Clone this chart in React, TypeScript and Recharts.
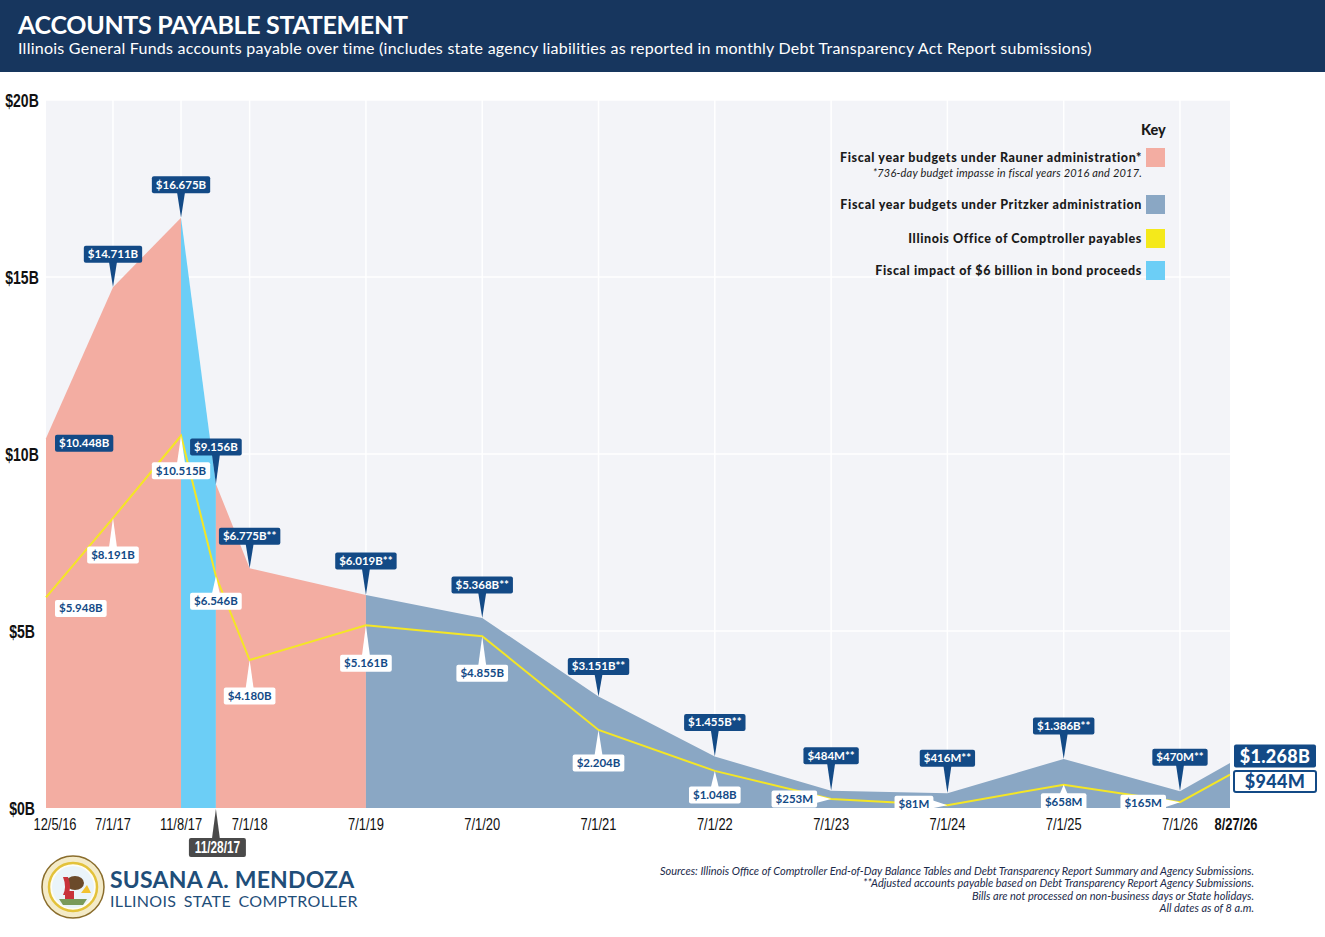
import React from "react";
import { ComposedChart, Area, Line, XAxis, YAxis, CartesianGrid, LabelList } from "recharts";

// statement dates on the x axis
const DATES = [
  "12/5/16", "7/1/17", "11/8/17", "11/28/17", "7/1/18", "7/1/19", "7/1/20",
  "7/1/21", "7/1/22", "7/1/23", "7/1/24", "7/1/25", "7/1/26", "8/27/26",
];
// total accounts payable, $B
const TOTAL_AP = [10.448, 14.711, 16.675, 9.156, 6.775, 6.019, 5.368, 3.151, 1.455, 0.484, 0.416, 1.386, 0.47, 1.268];
// Illinois Office of Comptroller payables, $B
const COMPTROLLER_AP = [5.948, 8.191, 10.515, 6.546, 4.18, 5.161, 4.855, 2.204, 1.048, 0.253, 0.081, 0.658, 0.165, 0.944];

const TOTAL_TEXT = [
  "$10.448B", "$14.711B", "$16.675B", "$9.156B", "$6.775B**", "$6.019B**", "$5.368B**",
  "$3.151B**", "$1.455B**", "$484M**", "$416M**", "$1.386B**", "$470M**", "$1.268B",
];
const COMPTROLLER_TEXT = [
  "$5.948B", "$8.191B", "$10.515B", "$6.546B", "$4.180B", "$5.161B", "$4.855B",
  "$2.204B", "$1.048B", "$253M", "$81M", "$658M", "$165M", "$944M",
];

// the axis is not linear in time: gap between consecutive dates, in fiscal-year widths
const AXIS_STEPS = [0.576, 0.585, 0.3, 0.29, 1, 1, 1, 1, 1, 1, 1, 1, 0.43];
const Y_TICKS = [0, 5, 10, 15, 20];
const GRID_DATES = ["7/1/17", "11/8/17", "7/1/18", "7/1/19", "7/1/20", "7/1/21", "7/1/22", "7/1/23", "7/1/24", "7/1/25", "7/1/26"];

// date index ranges of each period
const RAUNER_1 = [0, 2];
const BOND = [2, 3];
const RAUNER_2 = [3, 5];
const PRITZKER = [5, 13];

const KEY = [
  { label: "Fiscal year budgets under Rauner administration*", color: "#F3ADA2", note: "*736-day budget impasse in fiscal years 2016 and 2017." },
  { label: "Fiscal year budgets under Pritzker administration", color: "#8AA7C4" },
  { label: "Illinois Office of Comptroller payables", color: "#F4E91B" },
  { label: "Fiscal impact of $6 billion in bond proceeds", color: "#6CCEF6" },
];
const KEY_ROW_TOP = [148, 195, 229, 261];

const SOURCES = [
  "Sources: Illinois Office of Comptroller End-of-Day Balance Tables and Debt Transparency Report Summary and Agency Submissions.",
  "**Adjusted accounts payable based on Debt Transparency Report Agency Submissions.",
  "Bills are not processed on non-business days or State holidays.",
  "All dates as of 8 a.m.",
];

// label placement per point (style only)
const TOTAL_PLACE: [string, number][] = [
  ["right", 5], ["above", 33], ["above", 33], ["above", 37], ["above", 32], ["above", 34], ["above", 33],
  ["above", 30], ["above", 34], ["above", 35], ["above", 35], ["above", 33], ["above", 34], ["big", -7],
];
const COMPTROLLER_PLACE: [string, number][] = [
  ["right", 11], ["below", 37], ["below", 35], ["below", 25], ["below", 36], ["below", 38], ["below", 37],
  ["below", 33], ["below", 24], ["left", 0], ["left", -1], ["below", 17], ["left", 1], ["big", 7],
];

const NAVY = "#134A86";
const LABEL_FONT = "Lato, 'Noto Sans', sans-serif";
const AXIS_FONT = "'Liberation Sans', Arial, sans-serif";

const positions = AXIS_STEPS.reduce((acc, s) => [...acc, acc[acc.length - 1] + s], [0]);
const inRange = (i: number, r: number[]) => i >= r[0] && i <= r[1];

const rows = DATES.map((date, i) => ({
  x: positions[i],
  date,
  total: TOTAL_AP[i],
  ioc: COMPTROLLER_AP[i],
  rauner1: inRange(i, RAUNER_1) ? TOTAL_AP[i] : null,
  bond: inRange(i, BOND) ? TOTAL_AP[i] : null,
  rauner2: inRange(i, RAUNER_2) ? TOTAL_AP[i] : null,
  pritzker: inRange(i, PRITZKER) ? TOTAL_AP[i] : null,
}));

let ctx: CanvasRenderingContext2D | null = null;
const textWidth = (t: string, font: string) => {
  if (!ctx) ctx = document.createElement("canvas").getContext("2d");
  if (!ctx) return t.length * 6.2;
  ctx.font = font;
  return ctx.measureText(t).width;
};

const pointOf = (p: any) => {
  const vb = p.viewBox || {};
  const px = vb.x ?? p.x;
  const py = vb.y ?? p.y;
  const i = DATES.indexOf(p.value);
  return { px, py, i };
};

// condensed text (no narrow face installed, so squeeze horizontally)
const Narrow = ({ x, y, children, size, weight, fill, squeeze = 0.76 }: any) => (
  <text
    transform={`translate(${x},${y}) scale(${squeeze},1)`}
    textAnchor="middle"
    fill={fill}
    fontFamily={AXIS_FONT}
    fontWeight={weight}
    fontSize={size}
  >
    {children}
  </text>
);

const Callout = ({ px, py, text, place, dist, dark }: any) => {
  const bg = dark ? NAVY : "#FFFFFF";
  const fg = dark ? "#FFFFFF" : NAVY;
  if (place === "big") {
    const w = 82;
    const h = dark ? 23 : 21;
    const cy = py + dist;
    return (
      <g>
        <rect x={px + 4} y={cy - h / 2} width={w} height={h} rx={2} fill={bg} stroke={dark ? "none" : NAVY} strokeWidth={2} />
        <text x={px + 4 + w / 2} y={cy + 6.5} textAnchor="middle" fill={fg} fontFamily={LABEL_FONT} fontWeight={900} fontSize={18} letterSpacing={0.3}>
          {text}
        </text>
      </g>
    );
  }
  const font = `700 11.5px ${LABEL_FONT}`;
  const w = textWidth(text, font) + 8;
  const h = 17;
  let cx = px;
  let cy = py;
  let pointer: string | null = null;
  if (place === "above") {
    cy = py - dist;
    const b = cy + h / 2 - 1;
    pointer = `${px - 4},${b} ${px + 4},${b} ${px},${py}`;
  } else if (place === "below") {
    cy = py + dist;
    const t = cy - h / 2 + 1;
    pointer = `${px - 4},${t} ${px + 4},${t} ${px},${py}`;
  } else if (place === "left") {
    cy = py + dist;
    cx = px - 14 - w / 2;
    const r = cx + w / 2 - 1;
    pointer = `${r},${cy - 4} ${r},${cy + 4} ${px},${py}`;
  } else {
    cy = py + dist;
    cx = px + 9 + w / 2;
  }
  return (
    <g>
      {pointer && <polygon points={pointer} fill={bg} />}
      <rect x={cx - w / 2} y={cy - h / 2} width={w} height={h} rx={2} fill={bg} />
      <text x={cx} y={cy + 4} textAnchor="middle" fill={fg} fontFamily={LABEL_FONT} fontWeight={700} fontSize={11.5}>
        {text}
      </text>
    </g>
  );
};

const renderTotalLabel = (p: any) => {
  const { px, py, i } = pointOf(p);
  if (i < 0 || px == null) return null;
  const [place, dist] = TOTAL_PLACE[i];
  return <Callout px={px} py={py} text={TOTAL_TEXT[i]} place={place} dist={dist} dark />;
};

const renderComptrollerLabel = (p: any) => {
  const { px, py, i } = pointOf(p);
  if (i < 0 || px == null) return null;
  const [place, dist] = COMPTROLLER_PLACE[i];
  return <Callout px={px} py={py} text={COMPTROLLER_TEXT[i]} place={place} dist={dist} />;
};

const XTick = (props: any) => {
  const { x, y, payload } = props;
  const i = positions.findIndex((v) => Math.abs(v - payload.value) < 1e-6);
  const label = DATES[i];
  if (label === "11/28/17") {
    const top = 839;
    return (
      <g>
        <polygon points={`${x - 4},${top} ${x + 4},${top} ${x},${809}`} fill="#4A4A4A" />
        <rect x={x - 27} y={top - 1} width={57} height={19} rx={2} fill="#4A4A4A" />
        <Narrow x={x + 1.5} y={top + 14} size={16} weight={700} fill="#fff" squeeze={0.74}>
          {label}
        </Narrow>
      </g>
    );
  }
  const last = i === DATES.length - 1;
  const shift = i === 0 ? 9 : last ? 6 : 0;
  return (
    <Narrow x={x + shift} y={y + 14} size={17} weight={last ? 700 : 400} fill="#111">
      {label}
    </Narrow>
  );
};

const YTick = (props: any) => {
  const { y, payload } = props;
  return (
    <Narrow x={22} y={y + 6.5} size={18} weight={700} fill="#111" squeeze={0.78}>
      {`$${payload.value}B`}
    </Narrow>
  );
};

const Seal = () => (
  <svg width={64} height={64} viewBox="0 0 64 64" style={{ position: "absolute", left: 41, top: 855 }}>
    <circle cx={32} cy={32} r={31} fill="#F4EBC8" stroke="#8A6D2C" strokeWidth={1.5} />
    <circle cx={32} cy={32} r={24} fill="#FFFDF3" stroke="#E3C23A" strokeWidth={2.5} />
    <circle cx={32} cy={32} r={21} fill="#EAF4FA" />
    <path d="M18 44 L46 44 L42 50 L22 50 Z" fill="#7A9A5A" />
    <ellipse cx={34} cy={28} rx={9} ry={7} fill="#6B4A2A" />
    <path d="M22 22 Q26 32 22 40 L27 40 Q31 32 27 22 Z" fill="#C8323A" />
    <rect x={24} y={36} width={9} height={8} fill="#C8323A" />
    <path d="M40 38 L50 38 L46 30 Z" fill="#F2C230" />
  </svg>
);

const App: React.FC = () => {
  const gridX = GRID_DATES.map((d) => positions[DATES.indexOf(d)]);
  return (
    <div style={{ position: "absolute", left: 0, top: 0, width: 1325, height: 937, background: "#fff", overflow: "hidden" }}>
      <div style={{ position: "absolute", left: 0, top: 0, width: 1325, height: 72, background: "#17365E", color: "#fff", fontFamily: LABEL_FONT }}>
        <div style={{ position: "absolute", left: 18, top: 9, fontSize: 25, fontWeight: 700, letterSpacing: -0.3 }}>ACCOUNTS PAYABLE STATEMENT</div>
        <div style={{ position: "absolute", left: 18, top: 38, fontSize: 16, letterSpacing: 0.25 }}>
          Illinois General Funds accounts payable over time (includes state agency liabilities as reported in monthly Debt Transparency Act Report submissions)
        </div>
      </div>

      <div style={{ position: "absolute", left: 0, top: 0 }}>
        <ComposedChart width={1325} height={937} data={rows} margin={{ top: 100, right: 95, bottom: 89, left: 0 }}>
          <CartesianGrid
            fill="#F3F4F8"
            stroke="#FFFFFF"
            strokeWidth={1.5}
            horizontalValues={Y_TICKS}
            verticalValues={gridX}
          />
          <XAxis
            dataKey="x"
            type="number"
            domain={[0, positions[positions.length - 1]]}
            ticks={positions}
            interval={0}
            tick={<XTick />}
            axisLine={false}
            tickLine={false}
            height={40}
          />
          <YAxis domain={[0, 20]} ticks={Y_TICKS} tick={<YTick />} axisLine={false} tickLine={false} width={46} />
          <Area dataKey="rauner1" type="linear" stroke="none" fill="#F3ADA2" fillOpacity={1} isAnimationActive={false} />
          <Area dataKey="bond" type="linear" stroke="none" fill="#6CCEF6" fillOpacity={1} isAnimationActive={false} />
          <Area dataKey="rauner2" type="linear" stroke="none" fill="#F3ADA2" fillOpacity={1} isAnimationActive={false} />
          <Area dataKey="pritzker" type="linear" stroke="none" fill="#8AA7C4" fillOpacity={1} isAnimationActive={false} />
          <Line dataKey="ioc" type="linear" stroke="#F4E625" strokeWidth={2} dot={false} activeDot={false} isAnimationActive={false}>
            <LabelList dataKey="date" content={renderComptrollerLabel} />
          </Line>
          <Line dataKey="total" type="linear" stroke="none" dot={false} activeDot={false} isAnimationActive={false}>
            <LabelList dataKey="date" content={renderTotalLabel} />
          </Line>
        </ComposedChart>
      </div>

      <div style={{ position: "absolute", left: 1141, top: 121, fontFamily: LABEL_FONT, fontSize: 14.5, fontWeight: 900, color: "#1A1A1A" }}>Key</div>
      {KEY.map((k, i) => (
        <div key={k.label} style={{ position: "absolute", right: 160, top: KEY_ROW_TOP[i], fontFamily: LABEL_FONT, color: "#1A1A1A", textAlign: "right" }}>
          <div style={{ display: "flex", justifyContent: "flex-end", alignItems: "center" }}>
            <span style={{ fontSize: 12.5, fontWeight: 900, letterSpacing: 0.6, marginRight: 4 }}>{k.label}</span>
            <span style={{ display: "inline-block", width: 19, height: 19, background: k.color }} />
          </div>
          {k.note && <div style={{ fontSize: 11, fontStyle: "italic", marginRight: 23, marginTop: -1, letterSpacing: 0.2 }}>{k.note}</div>}
        </div>
      ))}

      <Seal />
      <div style={{ position: "absolute", left: 110, top: 866, fontFamily: LABEL_FONT, color: "#1F4E79" }}>
        <div style={{ fontSize: 23, fontWeight: 700, lineHeight: "26px", letterSpacing: 0.2 }}>SUSANA A. MENDOZA</div>
        <div style={{ fontSize: 16, letterSpacing: 0.35, wordSpacing: 3, lineHeight: "18px" }}>ILLINOIS STATE COMPTROLLER</div>
      </div>
      <div style={{ position: "absolute", right: 71, top: 865, textAlign: "right", fontFamily: LABEL_FONT, fontStyle: "italic", fontSize: 11, lineHeight: "12.4px", color: "#1B2A4A" }}>
        {SOURCES.map((s) => (
          <div key={s}>{s}</div>
        ))}
      </div>
    </div>
  );
};

export default App;
